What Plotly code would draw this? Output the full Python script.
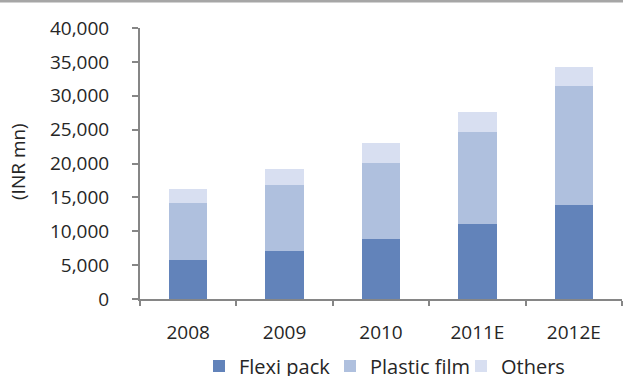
import plotly.graph_objects as go

years = ["2008", "2009", "2010", "2011E", "2012E"]
flexi_pack = [5800, 7150, 8800, 11100, 13900]
plastic_film = [8400, 9650, 11300, 13500, 17500]
others = [2050, 2350, 2900, 2950, 2900]

tick_vals = [0, 5000, 10000, 15000, 20000, 25000, 30000, 35000, 40000]
tick_text = ["0", "5,000", "10,000", "15,000", "20,000", "25,000", "30,000", "35,000", "40,000"]

W, H = 623, 376
ML, MR, MT, MB = 140, 1, 28, 77
pw, ph = W - ML - MR, H - MT - MB

font_family = "Open Sans"
text_color = "#262626"
axis_color = "#868686"

fig = go.Figure()
fig.add_bar(name="Flexi pack", x=years, y=flexi_pack, marker_color="#6283BA",
            marker_line_width=0)
fig.add_bar(name="Plastic film", x=years, y=plastic_film, marker_color="#AFC0DE",
            marker_line_width=0)
fig.add_bar(name="Others", x=years, y=others, marker_color="#D8DFF1",
            marker_line_width=0)

fig.update_layout(
    width=W, height=H,
    margin=dict(l=ML, r=MR, t=MT, b=MB, pad=0, autoexpand=False),
    barmode="stack",
    bargap=0.6,
    plot_bgcolor="white",
    paper_bgcolor="white",
    font=dict(family=font_family, size=19, color=text_color),
    showlegend=True,
    legend=dict(orientation="h", x=(199 - ML) / pw, xanchor="left",
                y=-(366 - MT - ph) / ph, yanchor="middle",
                font=dict(size=20), traceorder="normal",
                itemwidth=30, entrywidth=86, entrywidthmode="pixels",
                bgcolor="rgba(0,0,0,0)"),
)

fig.update_xaxes(
    showline=True, linecolor=axis_color, linewidth=2,
    ticks="outside", ticklen=5, tickcolor=axis_color, tickwidth=2,
    tickson="boundaries", showgrid=False, zeroline=False,
    ticklabelstandoff=15,
)
fig.update_yaxes(
    range=[0, 40000], tickvals=tick_vals, ticktext=tick_text,
    showline=True, linecolor=axis_color, linewidth=2,
    ticks="outside", ticklen=6, tickcolor=axis_color, tickwidth=2,
    showgrid=False, zeroline=False,
    ticklabelstandoff=19,
)

# axis title
fig.add_annotation(text="(INR mn)", textangle=-90, xref="paper", yref="paper",
                   x=(18 - ML) / pw, y=(H - MB - 162) / ph,
                   xanchor="center", yanchor="middle", showarrow=False,
                   font=dict(size=19, color=text_color))

# grey rule along the top edge
fig.add_shape(type="rect", xref="paper", yref="paper",
              x0=-ML / pw, x1=(W - ML) / pw,
              y0=1 + (MT - 2.5) / ph, y1=1 + MT / ph,
              fillcolor="#A6A6A6", line_width=0, layer="above")

fig.write_html("out.html")
